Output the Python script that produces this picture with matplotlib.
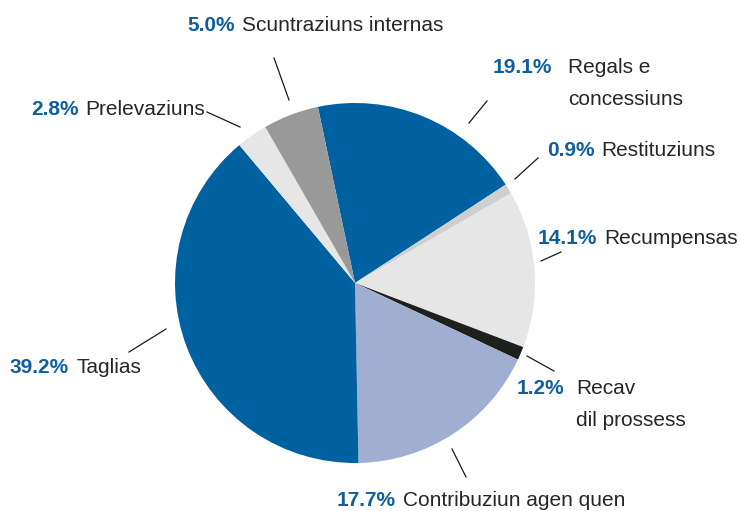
import matplotlib
matplotlib.use("Agg")
import matplotlib.pyplot as plt

categories = ["Regals e\nconcessiuns", "Restituziuns", "Recumpensas", "Recav\ndil prossess",
              "Contribuziun agen quen", "Taglias", "Prelevaziuns", "Scuntraziuns internas"]
shares = [19.1, 0.9, 14.1, 1.2, 17.7, 39.2, 2.8, 5.0]
colors = ["#0061A1", "#CFCFCF", "#E6E6E6", "#1E201C", "#A0AED2", "#0061A1", "#E6E6E6", "#999999"]

W, H = 741, 511
fig = plt.figure(figsize=(W / 100, H / 100), dpi=100)
ax = fig.add_axes([0, 0, 1, 1])
ax.set_xlim(0, W)
ax.set_ylim(0, H)
ax.set_aspect("equal")
ax.axis("off")

cx, cy, R = 355, H - 283, 180
ax.pie(shares, colors=colors, startangle=101.9, counterclock=False,
       center=(cx, cy), radius=R, wedgeprops=dict(linewidth=0))
ax.set_xlim(0, W)
ax.set_ylim(0, H)

# label layout (pixel coords, top-left origin): text x, baseline y, name x for wrapped labels, leader line
layout = [
    dict(x=493, y=73, x2=568, line=((469, 123), (487, 101))),
    dict(x=547, y=156, line=((515, 179), (538, 158))),
    dict(x=538, y=244, line=((541, 261), (561, 252))),
    dict(x=517, y=394, x2=576, line=((527, 356), (554, 371))),
    dict(x=337, y=506, line=((452, 449), (466, 477))),
    dict(x=10, y=373, line=((166, 329), (129, 352))),
    dict(x=31, y=115, line=((240, 127), (207, 112))),
    dict(x=187, y=31, line=((289, 100), (274, 58))),
]

fs = 15
font = "Liberation Sans"
pct_color = "#0F5F9F"
txt_color = "#262626"
lead = 32

for cat, val, lay in zip(categories, shares, layout):
    x, y = lay["x"], H - lay["y"]
    pct = ax.text(x, y, f"{val:.1f}%", fontsize=fs, fontweight="bold", family=font,
                  color=pct_color, va="baseline", ha="left")
    fig.canvas.draw()
    bb = pct.get_window_extent()
    xn = bb.x1 + 7
    lines = cat.split("\n")
    first_x = lay.get("x2", xn)
    ax.text(first_x, y, lines[0], fontsize=fs, family=font, color=txt_color,
            va="baseline", ha="left")
    if len(lines) > 1:
        ax.text(first_x, y - lead, lines[1], fontsize=fs, family=font, color=txt_color,
                va="baseline", ha="left")
    (x1, y1), (x2, y2) = lay["line"]
    ax.plot([x1, x2], [H - y1, H - y2], color="#1a1a1a", linewidth=0.9)

fig.savefig("out.png", dpi=100)
